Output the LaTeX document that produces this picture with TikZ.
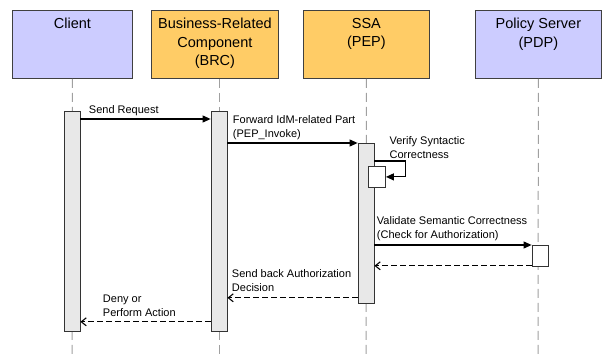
\documentclass[tikz,border=0pt]{standalone}
\usepackage{fontspec}
\setmainfont{Liberation Sans}
\usetikzlibrary{positioning,arrows.meta}

\definecolor{actorblue}{HTML}{CCCCFF}
\definecolor{actororange}{HTML}{FFCC66}
\definecolor{bargray}{HTML}{E8E8E8}
\definecolor{lifegray}{HTML}{A0A0A0}

\begin{document}
\begin{tikzpicture}[
		x=1pt, y=-1pt,
		head/.style={draw=black!75, line width=0.8pt, minimum height=68pt, anchor=north west, inner sep=0pt},
		headtext/.style={font=\fontsize{14.5}{18.5}\selectfont, align=center, inner sep=0pt, anchor=north},
		actbar/.style={draw=black!80, line width=0.8pt, fill=bargray, minimum width=16pt, anchor=north, inner sep=0pt},
		lifeline/.style={draw=lifegray, line width=1pt, dash pattern=on 9pt off 5pt},
		msg/.style={line width=1.1pt, -{Triangle[length=8pt,width=7pt]}},
		reply/.style={line width=1.1pt, dash pattern=on 6pt off 3pt, -{Straight Barb[length=5pt,width=8pt]}},
		msgtext/.style={font=\fontsize{11}{14}\selectfont, align=left, inner sep=0pt, anchor=south west},
	]
		\useasboundingbox (0,0) rectangle (602,358);

		% participants
		\node [head, fill=actorblue, minimum width=120pt] (client) at (12,10) {};
		\node [head, fill=actororange, minimum width=127pt] (brc) at (151,10) {};
		\node [head, fill=actororange, minimum width=126pt] (ssa) at (303,10) {};
		\node [head, fill=actorblue, minimum width=126pt] (pdp) at (475,10) {};
		\node [headtext, below=8pt of client.north] (clientlabel) {Client};
		\node [headtext, below=8pt of brc.north] (brclabel) {Business-Related\\Component\\(BRC)};
		\node [headtext, below=8pt of ssa.north] (ssalabel) {SSA\\(PEP)};
		\node [headtext, below=8pt of pdp.north] (pdplabel) {Policy Server\\(PDP)};

		% lifelines
		\coordinate (clientend) at (72,358);
		\coordinate (brcend) at (219,358);
		\coordinate (ssaend) at (366,358);
		\coordinate (pdpend) at (538,358);
		\draw [lifeline] (client.south) -- (clientend);
		\draw [lifeline] (brc.south -| brcend) -- (brcend);
		\draw [lifeline] (ssa.south) -- (ssaend);
		\draw [lifeline] (pdp.south) -- (pdpend);

		% activations
		\node [actbar, minimum height=220pt] (clientbar) at (72,111) {};
		\node [actbar, minimum height=220pt] (brcbar) at (219,111) {};
		\node [actbar, minimum height=160pt] (ssabar) at (366,143) {};
		\node [actbar, fill=white, minimum width=17pt, minimum height=21pt] (selfbox) at (377,166) {};
		\node [actbar, fill=white, minimum height=21pt] (pdpbar) at (540,245) {};

		% messages
		\draw [msg] ([yshift=-8pt]clientbar.north east) -- ([yshift=-8pt]brcbar.north west)
			node [msgtext, pos=0, xshift=8pt, yshift=2.5pt] (sendlabel) {Send Request};
		\draw [msg] ([yshift=-32pt]brcbar.north east) -- (ssabar.north west)
			node [msgtext, pos=0, xshift=5pt, yshift=3pt] (fwdlabel) {Forward IdM-related Part\\(PEP\_Invoke)};
		\draw [msg] ([yshift=-18pt]ssabar.north east) -| ([xshift=20pt]selfbox.east) -- (selfbox.east);
		\node [msgtext, above right=3pt and 15pt of ssabar.north east, yshift=-19pt] (verifylabel) {Verify Syntactic\\Correctness};
		\draw [msg] ([yshift=-102pt]ssabar.north east) -- (pdpbar.north west)
			node [msgtext, pos=0, xshift=2pt, yshift=4pt] (validlabel) {Validate Semantic Correctness\\(Check for Authorization)};
		\draw [reply] ([yshift=1pt]pdpbar.south west) -- ([yshift=1pt]pdpbar.south west -| ssabar.east);
		\draw [reply] ([yshift=6pt]ssabar.south west) -- ([yshift=34pt]brcbar.south east)
			node [msgtext, pos=1, xshift=4pt, yshift=6pt] (backlabel) {Send back Authorization\\Decision};
		\draw [reply] ([yshift=10pt]brcbar.south west) -- ([yshift=10pt]clientbar.south east)
			node [msgtext, pos=1, xshift=22pt, yshift=5pt] (denylabel) {Deny or\\Perform Action};
	\end{tikzpicture}
\end{document}
